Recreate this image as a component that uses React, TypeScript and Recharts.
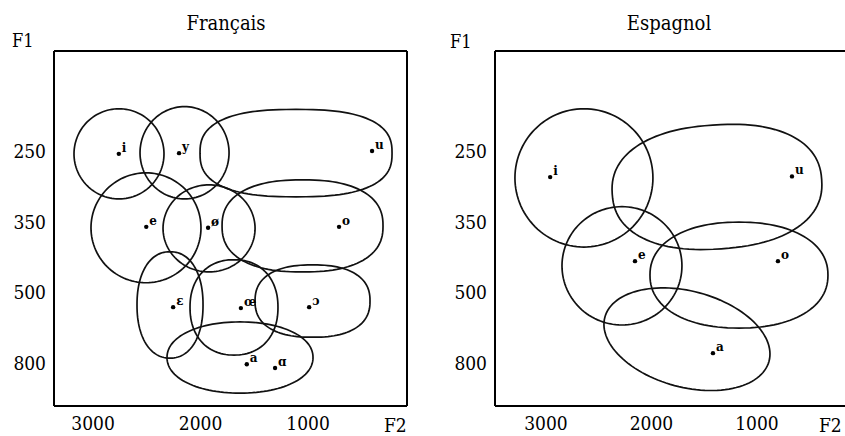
import React from 'react';
import { ScatterChart, Scatter, XAxis, YAxis, ReferenceArea, ReferenceLine } from 'recharts';

// ---- axis ticks ----
const F1_TICKS = [250, 350, 500, 800];
const F2_TICKS = [3000, 2000, 1000];

// ---- Français : vowel means (F2, F1 in Hz) ----
const FR_VOWELS = ['i', 'y', 'u', 'e', 'ø', 'o', 'ɛ', 'œ', 'ɔ', 'a', 'ɑ'];
const FR_F2 = [2760, 2200, 405, 2505, 1930, 712, 2255, 1625, 990, 1570, 1307];
const FR_F1 = [253, 252, 249, 360, 362, 360, 562, 566, 562, 805, 821];

// ---- Français : dispersion regions [F2 from, F2 to], [F1 from, F1 to] ----
const FR_REGION_NAMES = ['i', 'y', 'u', 'e', 'ø', 'o', 'ɛ', 'œ', 'ɔ', 'a'];
const FR_REGION_F2 = [[3177, 2340], [2563, 1735], [2005, 219], [3019, 1996], [2349, 1493], [1800, 303], [2591, 1977], [2098, 1280], [1493, 424], [2312, 954]];
const FR_REGION_F1 = [[189, 317], [186, 317], [190, 314], [280, 479], [297, 456], [290, 456], [413, 779], [430, 766], [441, 690], [625, 928]];
const FR_REGION_SQUARENESS = [2, 2, 2.6, 2, 2, 2.4, 2.2, 2.2, 2.4, 2.1];
const FR_REGION_TILT = [0, 0, 0, 0, 0, 0, 0, 0, 0, 0];

// ---- Espagnol ----
const SP_VOWELS = ['i', 'u', 'e', 'o', 'a'];
const SP_F2 = [2960, 668, 2156, 801, 1417];
const SP_F1 = [286, 285, 433, 433, 758];

const SP_REGION_NAMES = ['i', 'u', 'e', 'o', 'a'];
const SP_REGION_F2 = [[3294, 1986], [2374, 384], [2848, 1711], [2014, 327], [2469, 858]];
const SP_REGION_F1 = [[189, 403], [212, 407], [328, 638], [350, 651], [497, 903]];
const SP_REGION_SQUARENESS = [2, 2.3, 2, 2.2, 2];
const SP_REGION_TILT = [0, -4, 0, 0, 15];

// F1 axis is drawn with equally spaced ticks 250 / 350 / 500 / 800
function toT(f1: number): number {
  if (f1 <= 350) return (f1 - 250) / 100;
  if (f1 <= 500) return 1 + (f1 - 350) / 150;
  return 2 + (f1 - 500) / 300;
}

const T_DOMAIN: [number, number] = [-1.43, 3.61];
const FONT = '"DejaVu Serif Condensed", "DejaVu Serif", serif';

function blobPath(x: number, y: number, w: number, h: number, n: number): string {
  const cx = x + w / 2;
  const cy = y + h / 2;
  const rx = Math.abs(w) / 2;
  const ry = Math.abs(h) / 2;
  const e = 2 / n;
  let d = '';
  const N = 120;
  for (let k = 0; k <= N; k++) {
    const a = (k / N) * 2 * Math.PI;
    const c = Math.cos(a);
    const s = Math.sin(a);
    const px = cx + rx * Math.sign(c) * Math.pow(Math.abs(c), e);
    const py = cy + ry * Math.sign(s) * Math.pow(Math.abs(s), e);
    d += (k === 0 ? 'M' : 'L') + px.toFixed(2) + ',' + py.toFixed(2);
  }
  return d + 'Z';
}

function Blob(props: any) {
  const { x, y, width, height, n, tilt } = props;
  if (x == null || y == null) return null;
  const cx = x + width / 2;
  const cy = y + height / 2;
  return (
    <path
      d={blobPath(x, y, width, height, n)}
      fill="none"
      stroke="#111"
      strokeWidth={1.7}
      transform={tilt ? `rotate(${tilt} ${cx} ${cy})` : undefined}
    />
  );
}

function VowelMark(props: any) {
  const { cx, cy, payload } = props;
  if (cx == null || cy == null) return null;
  return (
    <g>
      <circle cx={cx} cy={cy} r={2.2} fill="#000" />
      <text x={cx + 3} y={cy - 2} fontSize={12} fontWeight="bold" fontFamily="DejaVu Serif, serif" fill="#000">
        {payload.label}
      </text>
    </g>
  );
}

type PanelProps = {
  width: number;
  marginLeft: number;
  marginRight: number;
  f2Domain: [number, number];
  vowels: string[];
  f2s: number[];
  f1s: number[];
  regionNames: string[];
  regionF2: number[][];
  regionF1: number[][];
  squareness: number[];
  tilt: number[];
  rightBorder: boolean;
};

function Panel(p: PanelProps) {
  const points = p.vowels.map((v, i) => ({ x: p.f2s[i], y: toT(p.f1s[i]), label: v }));
  const tickStyle = { fill: '#000', fontSize: 19, fontFamily: FONT };
  const axisLine = { stroke: '#000', strokeWidth: 2 };
  return (
    <ScatterChart width={p.width} height={436} margin={{ top: 51, right: p.marginRight, bottom: 0, left: p.marginLeft }}>
      <XAxis
        type="number"
        dataKey="x"
        domain={p.f2Domain}
        reversed
        allowDataOverflow
        ticks={F2_TICKS}
        interval={0}
        height={30}
        tickLine={false}
        tickMargin={5}
        axisLine={axisLine}
        tick={tickStyle}
      />
      <YAxis
        type="number"
        dataKey="y"
        domain={T_DOMAIN}
        reversed
        allowDataOverflow
        ticks={[0, 1, 2, 3]}
        tickFormatter={(v: number) => String(F1_TICKS[v])}
        interval={0}
        width={54}
        tickLine={false}
        axisLine={axisLine}
        tick={tickStyle}
      />
      <ReferenceLine y={T_DOMAIN[0]} stroke="#000" strokeWidth={2} ifOverflow="visible" />
      {p.rightBorder && <ReferenceLine x={p.f2Domain[0]} stroke="#000" strokeWidth={2} ifOverflow="visible" />}
      {p.regionNames.map((name, i) => (
        <ReferenceArea
          key={name + i}
          x1={p.regionF2[i][0]}
          x2={p.regionF2[i][1]}
          y1={toT(p.regionF1[i][0])}
          y2={toT(p.regionF1[i][1])}
          ifOverflow="visible"
          shape={(sp: any) => <Blob {...sp} n={p.squareness[i]} tilt={p.tilt[i]} />}
        />
      ))}
      <Scatter data={points} isAnimationActive={false} shape={(sp: any) => <VowelMark {...sp} />} />
    </ScatterChart>
  );
}

export default function App() {
  return (
    <div style={{ position: 'absolute', left: 0, top: 0, width: 845, height: 436, overflow: 'hidden', background: '#fff' }}>
      <div style={{ position: 'absolute', left: 0, top: 0 }}>
        <Panel
          width={420}
          marginLeft={0}
          marginRight={13}
          f2Domain={[80, 3363]}
          vowels={FR_VOWELS}
          f2s={FR_F2}
          f1s={FR_F1}
          regionNames={FR_REGION_NAMES}
          regionF2={FR_REGION_F2}
          regionF1={FR_REGION_F1}
          squareness={FR_REGION_SQUARENESS}
          tilt={FR_REGION_TILT}
          rightBorder={true}
        />
      </div>
      <div style={{ position: 'absolute', left: 420, top: 0 }}>
        <Panel
          width={428}
          marginLeft={21}
          marginRight={0}
          f2Domain={[137, 3483]}
          vowels={SP_VOWELS}
          f2s={SP_F2}
          f1s={SP_F1}
          regionNames={SP_REGION_NAMES}
          regionF2={SP_REGION_F2}
          regionF1={SP_REGION_F1}
          squareness={SP_REGION_SQUARENESS}
          tilt={SP_REGION_TILT}
          rightBorder={false}
        />
      </div>
      <svg width={845} height={436} style={{ position: 'absolute', left: 0, top: 0, pointerEvents: 'none' }}>
        <g fill="#000" fontFamily={FONT}>
          <text x={226} y={30} fontSize={20} textAnchor="middle">Français</text>
          <text x={669} y={30} fontSize={20} textAnchor="middle">Espagnol</text>
          <text x={12} y={47} fontSize={18}>F1</text>
          <text x={450} y={48} fontSize={18}>F1</text>
          <text x={384} y={432} fontSize={19}>F2</text>
          <text x={819} y={432} fontSize={19}>F2</text>
        </g>
      </svg>
    </div>
  );
}
